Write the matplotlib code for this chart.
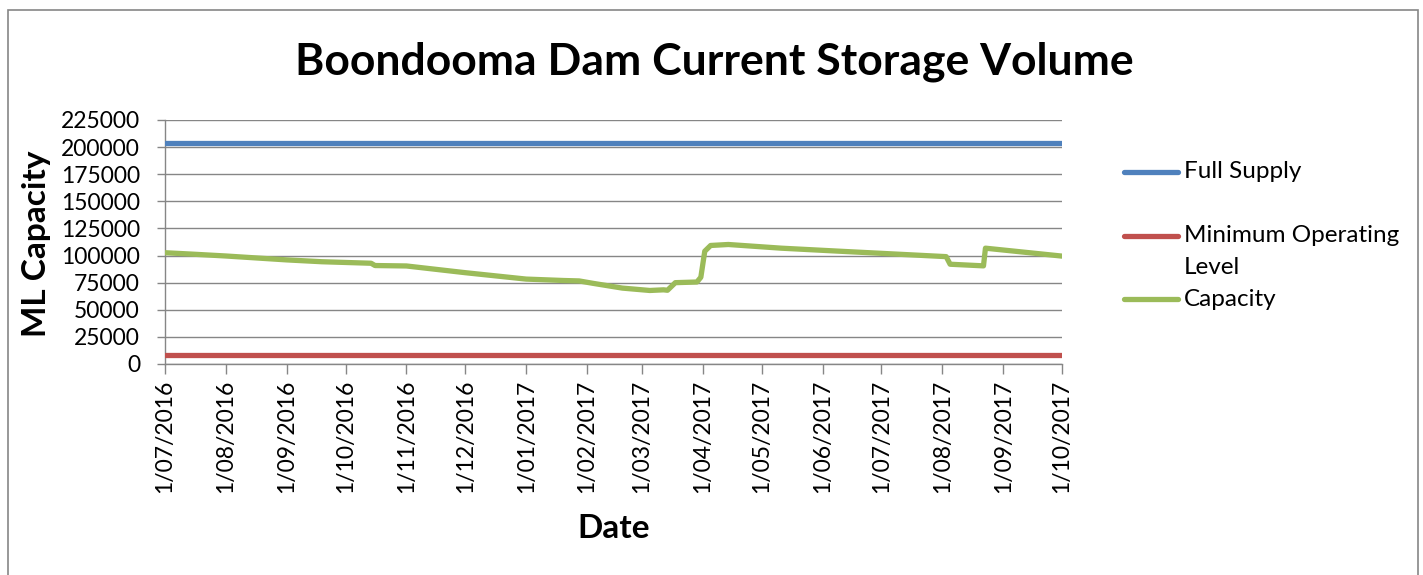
import matplotlib
matplotlib.use("Agg")
import matplotlib.pyplot as plt
import matplotlib.dates as mdates
from matplotlib.lines import Line2D
from matplotlib.patches import Rectangle
import datetime as dt

plt.rcParams['font.family'] = ['Lato', 'DejaVu Sans']

title = "Boondooma Dam Current Storage Volume"
x_label = "Date"
y_label = "ML Capacity"
series_names = ["Full Supply", "Minimum Operating\nLevel", "Capacity"]

full_supply = 204200
min_operating = 8100

capacity_dates = [
    "2016-07-01", "2016-07-15", "2016-08-01", "2016-09-01", "2016-09-19",
    "2016-10-14", "2016-10-16", "2016-11-01", "2016-12-01", "2017-01-01",
    "2017-01-20", "2017-01-28", "2017-02-04", "2017-02-19", "2017-03-05",
    "2017-03-12", "2017-03-14", "2017-03-18", "2017-03-29", "2017-03-31",
    "2017-04-02", "2017-04-05", "2017-04-14", "2017-05-11", "2017-06-14",
    "2017-08-03", "2017-08-05", "2017-08-22", "2017-08-23", "2017-10-01",
]
capacity_values = [
    102600, 101300, 99600, 96000, 94300,
    92900, 90800, 90400, 84200, 78300,
    77000, 76600, 74400, 70000, 67800,
    68400, 68000, 75000, 75600, 80000,
    104000, 109300, 110200, 106800, 103600,
    99000, 92000, 90500, 106800, 99500,
]

tick_dates = [
    "2016-07-01", "2016-08-01", "2016-09-01", "2016-10-01", "2016-11-01",
    "2016-12-01", "2017-01-01", "2017-02-01", "2017-03-01", "2017-04-01",
    "2017-05-01", "2017-06-01", "2017-07-01", "2017-08-01", "2017-09-01",
    "2017-10-01",
]
tick_labels = [
    "1/07/2016", "1/08/2016", "1/09/2016", "1/10/2016", "1/11/2016",
    "1/12/2016", "1/01/2017", "1/02/2017", "1/03/2017", "1/04/2017",
    "1/05/2017", "1/06/2017", "1/07/2017", "1/08/2017", "1/09/2017",
    "1/10/2017",
]
y_ticks = [0, 25000, 50000, 75000, 100000, 125000, 150000, 175000, 200000, 225000]

colors = ["#4F81BD", "#C0504D", "#9BBB59"]

to_date = lambda s: dt.datetime.strptime(s, "%Y-%m-%d")
cap_x = [to_date(d) for d in capacity_dates]
tick_x = [to_date(d) for d in tick_dates]
x0, x1 = tick_x[0], tick_x[-1]

W, H = 1423, 575
fig = plt.figure(figsize=(W / 100, H / 100), dpi=100)
ax = fig.add_axes([165 / W, 1 - 364 / H, (1062 - 165) / W, (364 - 120) / H])

lw = 3.8
ax.plot([x0, x1], [full_supply, full_supply], color=colors[0], lw=lw, solid_capstyle='round', zorder=3)
ax.plot([x0, x1], [min_operating, min_operating], color=colors[1], lw=lw, solid_capstyle='round', zorder=3)
ax.plot(cap_x, capacity_values, color=colors[2], lw=lw, solid_capstyle='round', solid_joinstyle='round', zorder=4)

ax.set_xlim(x0, x1)
ax.set_ylim(0, 225000)
ax.set_yticks(y_ticks)
ax.set_yticklabels([str(v) for v in y_ticks])
ax.set_xticks([mdates.date2num(d) for d in tick_x])
ax.set_xticklabels(tick_labels, rotation=90)

grid_c = "#868686"
ax.grid(axis='y', color=grid_c, lw=1.0, zorder=1)
for s in ['top', 'right']:
    ax.spines[s].set_visible(False)
for s in ['left', 'bottom']:
    ax.spines[s].set_color(grid_c)
    ax.spines[s].set_linewidth(1.0)
ax.tick_params(axis='both', colors=grid_c, labelcolor='black', labelsize=16.5, width=1.0)
ax.tick_params(axis='y', length=6, pad=12)
ax.tick_params(axis='x', length=7, pad=4)

fig.text(614 / W, 1 - 528 / H, x_label, fontsize=24, fontweight='bold', ha='center', va='center')
fig.text(37 / W, 1 - 244 / H, y_label, fontsize=24, fontweight='bold', ha='center', va='center', rotation=90)

fig.text(714 / W, 1 - 62 / H, title, fontsize=32, fontweight='bold', ha='center', va='center')

# legend
leg_y = [172, 236, 299]
for name, c, y in zip(series_names, colors, leg_y):
    fig.add_artist(Line2D([1124 / W, 1178 / W], [1 - y / H, 1 - y / H], color=c, lw=lw,
                          solid_capstyle='round', transform=fig.transFigure))
    lines = name.split('\n')
    for i, t in enumerate(lines):
        fig.text(1184 / W, 1 - (y + 32 * i) / H, t, fontsize=17.5, ha='left', va='center')

fig.add_artist(Rectangle((8 / W, -0.01), (1418 - 8) / W, 1 - 10 / H + 0.01, transform=fig.transFigure,
                         fill=False, edgecolor="#868686", lw=1.2))

fig.savefig("out.png", dpi=100)
